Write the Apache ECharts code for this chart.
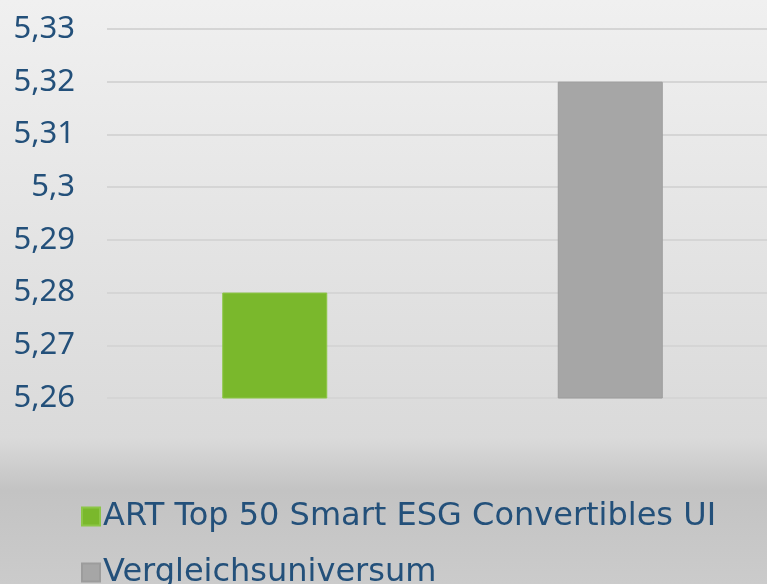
<!DOCTYPE html>
<html><head><meta charset="utf-8">
<script src="https://cdn.jsdelivr.net/npm/echarts@6/dist/echarts.min.js"></script>
<style>html,body{margin:0;padding:0;}#c{width:767px;height:584px;}</style>
</head><body><div id="c"></div>
<script>
const categories = ['ART Top 50 Smart ESG Convertibles UI', 'Vergleichsuniversum'];
const seriesNames = ['ART Top 50 Smart ESG Convertibles UI', 'Vergleichsuniversum'];
const seriesValues = [5.28, 5.32];
const colors = ['#7ab82c', '#a6a6a6'];
const yMin = 5.26, yMax = 5.33, yStep = 0.01;

const chart = echarts.init(document.getElementById('c'));
const txt = '#23507a';
const series = seriesNames.map((n, i) => ({
  name: n, type: 'bar', barWidth: 105, barGap: '-100%',
  data: categories.map((c, j) => j === i ? seriesValues[i] : '-'),
  itemStyle: { color: colors[i], borderColor: i === 0 ? '#8cc646' : '#9c9c9c', borderWidth: 1 }
}));
const legendBase = { orient: 'vertical', left: 76, itemWidth: 18, itemHeight: 18, icon: 'rect',
  textStyle: { color: txt, fontFamily: 'DejaVu Sans', fontSize: 32, lineHeight: 36, padding: [0,0,0,-2] } };
chart.setOption({
  animation: false,
  backgroundColor: { type: 'linear', x: 0, y: 0, x2: 0, y2: 1, colorStops: [
    { offset: 0, color: '#f0f0f0' }, { offset: 0.75, color: '#dadada' },
    { offset: 0.84, color: '#c3c3c3' }, { offset: 1, color: '#cbcbcb' } ] },
  grid: { left: 107, width: 671, top: 29, bottom: 186, containLabel: false, outerBoundsMode: 'none' },
  xAxis: { type: 'category', data: categories, axisLine: { show: false }, axisTick: { show: false }, axisLabel: { show: false } },
  yAxis: { type: 'value', min: yMin, max: yMax, interval: yStep,
    axisLine: { show: false }, axisTick: { show: false },
    splitLine: { lineStyle: { color: '#d5d5d5', width: 2 } },
    axisLabel: { margin: 32, color: txt, fontFamily: 'Noto Sans', fontSize: 31,
      formatter: v => (+v.toFixed(2)).toString().replace('.', ',') } },
  legend: [
    Object.assign({}, legendBase, { top: 493.5, data: [seriesNames[0]] }),
    Object.assign({}, legendBase, { top: 549.5, data: [seriesNames[1]] })
  ],
  series: series
});
</script></body></html>
